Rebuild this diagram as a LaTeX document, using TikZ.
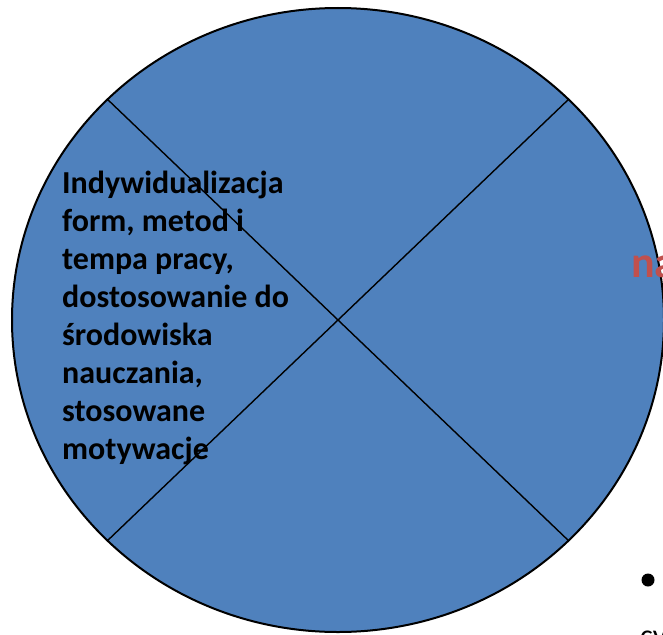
\documentclass[tikz,border=0pt]{standalone}
\usepackage{fontspec}
\setmainfont{Carlito}
\usetikzlibrary{positioning}
\definecolor{pieblue}{HTML}{4F81BD}
\definecolor{piered}{HTML}{C0504D}

\begin{document}
\begin{tikzpicture}[x=1pt,y=-1pt,
    wheel/.style={fill=pieblue, draw=black, line width=2pt},
    divider/.style={draw=black, line width=1.4pt},
    segtext/.style={font=\bfseries\fontsize{32}{38}\selectfont, align=left, inner sep=0pt, anchor=base west},
    sidetext/.style={font=\bfseries\fontsize{44}{52}\selectfont, text=piered, inner sep=0pt, anchor=base west}]
  \useasboundingbox (0,0) rectangle (663,634);
  \clip (0,0) rectangle (663,634);

  % Draw the circle
  \draw[wheel] (338,320) ellipse [x radius=326pt, y radius=312pt];

  % Ends of the two dividing lines
  \coordinate (nw) at (107.5,99.4);
  \coordinate (ne) at (568.5,99.4);
  \coordinate (sw) at (107.5,540.6);
  \coordinate (se) at (568.5,540.6);

  % Draw the dividing lines
  \draw[divider] (nw) -- (se);
  \draw[divider] (ne) -- (sw);

  % Label the left segment (base = last line)
  \node[segtext] (individual) at (62,459) {Indywidualizacja\\form, metod i\\tempa pracy,\\dostosowanie do\\środowiska\\nauczania,\\stosowane\\motywacje};

  % Text cut off at the right edge
  \node[sidetext] (rightword) at (631,277) {na};
  \fill (648,580) circle (6.5pt);
  \node[font=\fontsize{30}{36}\selectfont, inner sep=0pt, anchor=base west] (bottomword) at (640,645) {cy};

\end{tikzpicture}
\end{document}
